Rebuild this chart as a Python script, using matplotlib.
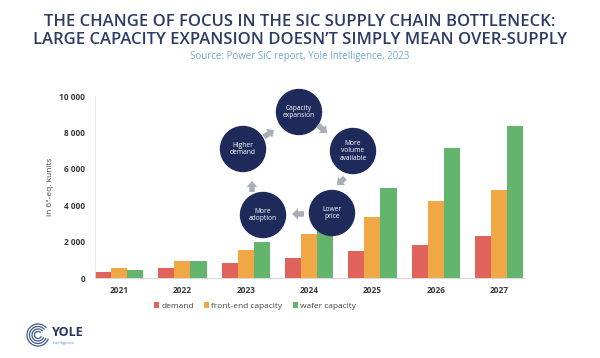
import numpy as np
import matplotlib
matplotlib.use('Agg')
import matplotlib.pyplot as plt
from matplotlib.patches import Circle, FancyArrow, Arc

years = ['2021', '2022', '2023', '2024', '2025', '2026', '2027']
demand = [330, 550, 820, 1100, 1460, 1830, 2320]
front_end = [530, 910, 1555, 2430, 3330, 4210, 4810]
wafer = [455, 950, 1960, 3000, 4945, 7120, 8350]
yticks = [0, 2000, 4000, 6000, 8000, 10000]
ytick_labels = ['0', '2 000', '4 000', '6 000', '8 000', '10 000']

cycle_labels = ['Capacity\nexpansion', 'More\nvolume\navailable', 'Lower\nprice',
                'More\nadoption', 'Higher\ndemand']

c_dem = '#E0635B'
c_fe = '#F0A847'
c_waf = '#63B46D'
navy = '#1E2A5A'
grey_arrow = '#A9ADB5'

plt.rcParams['font.family'] = ['Open Sans', 'DejaVu Sans']

fig = plt.figure(figsize=(6.0, 3.58), dpi=100)
W, H = 600, 358

def ax_rect(x0, y0, x1, y1):
    # pixel box (top-left origin) -> figure fraction
    return [x0 / W, 1 - y1 / H, (x1 - x0) / W, (y1 - y0) / H]

ax = fig.add_axes(ax_rect(95, 96, 525, 278))
x = np.arange(len(years))
bw = 0.254
ax.bar(x - bw, demand, bw, color=c_dem, label='demand')
ax.bar(x, front_end, bw, color=c_fe, label='front-end capacity')
ax.bar(x + bw, wafer, bw, color=c_waf, label='wafer capacity')
ax.set_xlim(-0.38, 6.41)
ax.set_ylim(0, 10000)
ax.set_xticks(x)
ax.set_xticklabels(years)
ax.set_yticks(yticks)
ax.set_yticklabels(ytick_labels)
for s in ['top', 'right']:
    ax.spines[s].set_visible(False)
ax.spines['left'].set_color('#E6E6E6')
ax.spines['left'].set_linewidth(0.6)
ax.spines['bottom'].set_color('#D8D8D8')
ax.spines['bottom'].set_linewidth(0.8)
ax.tick_params(length=0, labelsize=6, labelcolor='#3A3A3A', pad=6)
ax.tick_params(axis='y', pad=7)
for t in ax.get_xticklabels() + ax.get_yticklabels():
    t.set_fontweight('bold')
ax.set_ylabel('in 6"-eq. kunits', fontsize=6, color='#444444', labelpad=4)

leg = fig.legend(loc='center', bbox_to_anchor=(255 / W, 1 - 306 / H), ncol=3,
                 frameon=False, fontsize=6, handlelength=0.6, handleheight=0.6,
                 handletextpad=0.3, columnspacing=1.2, labelcolor='#444444')

# titles
fig.text(0.5, 1 - 22 / H, 'THE CHANGE OF FOCUS IN THE SIC SUPPLY CHAIN BOTTLENECK:',
         ha='center', va='center', fontsize=12, color='#2E3B66', fontweight='semibold')
fig.text(0.5, 1 - 40 / H, 'LARGE CAPACITY EXPANSION DOESN\u2019T SIMPLY MEAN OVER-SUPPLY',
         ha='center', va='center', fontsize=12, color='#2E3B66', fontweight='semibold')
fig.text(0.5, 1 - 56 / H, 'Source: Power SiC report, Yole Intelligence, 2023',
         ha='center', va='center', fontsize=7, color='#6FA8D6')

# overlay in pixel coordinates for the cycle diagram and logo
ov = fig.add_axes([0, 0, 1, 1], zorder=5)
ov.set_xlim(0, W)
ov.set_ylim(H, 0)
ov.axis('off')
ov.patch.set_alpha(0)

centers = [(299, 112), (353, 151), (332, 213), (263, 215), (243, 149)]
for (cx, cy), lab in zip(centers, cycle_labels):
    ov.add_patch(Circle((cx, cy), 22.5, color=navy))
    ov.text(cx, cy, lab, ha='center', va='center', fontsize=4.8, color='white',
            linespacing=1.15)

arrows = [((318, 125), (9, 8)), ((345, 178), (-8, 7)), ((304, 214), (-12, 0)),
          ((252, 192), (0, -11)), ((264, 137), (10, -7))]
for (ax0, ay0), (dx, dy) in arrows:
    ov.add_patch(FancyArrow(ax0, ay0, dx, dy, width=5.5, head_width=11, head_length=6,
                            length_includes_head=True, color=grey_arrow, lw=0))

# logo
for r in [11, 8.5, 6, 3.5]:
    ov.add_patch(Arc((38, 335), 2 * r, 2 * r, theta1=20, theta2=320, color='#3E5A8A', lw=0.9))
fig.text(52 / W, 1 - 333 / H, 'YOLE', fontsize=9, fontweight='bold', color='#2A3560',
         va='center')
fig.text(53 / W, 1 - 343 / H, 'Intelligence', fontsize=3, color='#5E8FCB', va='center')

fig.savefig('out.png', dpi=100, facecolor='white')
